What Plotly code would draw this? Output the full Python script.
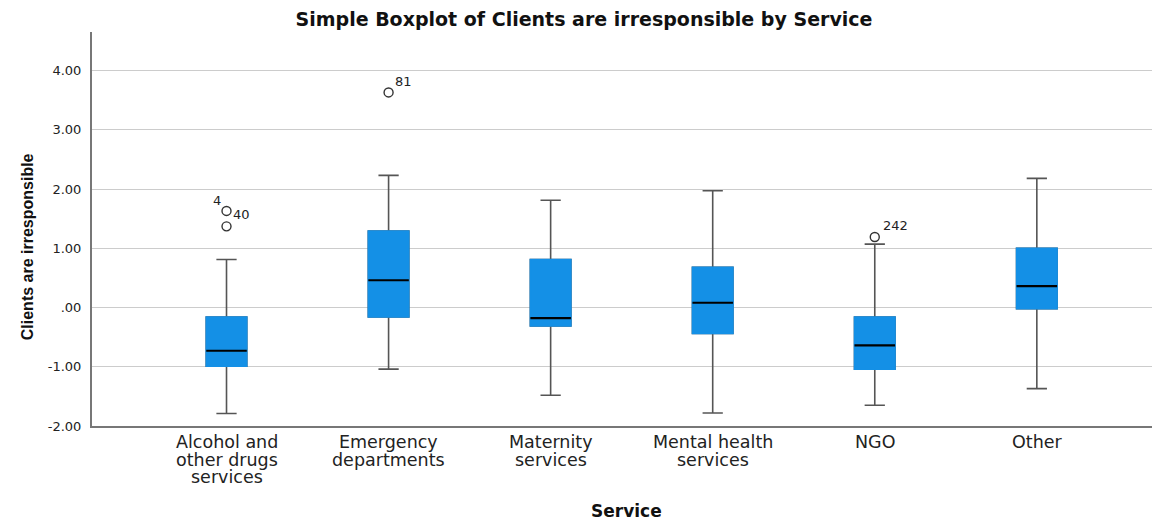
import plotly.graph_objects as go

# SPSS style boxplot
services = ['Alcohol and other drugs services', 'Emergency departments',
            'Maternity services', 'Mental health services', 'NGO', 'Other']
label_lines = [['Alcohol and', 'other drugs', 'services'], ['Emergency', 'departments'],
               ['Maternity', 'services'], ['Mental health', 'services'], ['NGO'], ['Other']]
lower = [-1.79, -1.04, -1.48, -1.78, -1.65, -1.37]
q1 = [-0.99, -0.16, -0.31, -0.44, -1.04, -0.02]
median = [-0.73, 0.46, -0.18, 0.08, -0.64, 0.36]
q3 = [-0.16, 1.29, 0.81, 0.68, -0.16, 1.00]
upper = [0.81, 2.23, 1.81, 1.97, 1.07, 2.18]

# outliers: service index, value
out_idx = [0, 0, 1, 4]
out_val = [1.63, 1.37, 3.63, 1.19]

# outlier labels: service index, value, text
lab_idx = [0, 0, 1, 4]
lab_val = [1.63, 1.63, 3.63, 1.19]
lab_text = ['4', '40', '81', '242']
lab_shift = [(-10, 10), (15, -4), (15, 11), (21, 12)]

tick_vals = [-2, -1, 0, 1, 2, 3, 4]
tick_text = ['-2.00', '-1.00', '.00', '1.00', '2.00', '3.00', '4.00']

BLUE = '#1490e6'
W = 0.25
FONT = 'DejaVu Sans, Verdana, sans-serif'

fig = go.Figure()
# whiskers + box
fig.add_trace(go.Box(
    x=services, q1=q1, median=median, q3=q3, lowerfence=lower, upperfence=upper,
    width=W, whiskerwidth=0.5, fillcolor=BLUE,
    line=dict(color='#555555', width=1.6), showlegend=False, hoverinfo='skip',
))
# cover outline with blue
fig.add_trace(go.Box(
    x=services, q1=q1, median=median, q3=q3, lowerfence=q1, upperfence=q3,
    width=W, whiskerwidth=0, fillcolor=BLUE,
    line=dict(color=BLUE, width=1.6), showlegend=False, hoverinfo='skip',
))
# black median line
fig.add_trace(go.Box(
    x=services, q1=median, median=median, q3=median, lowerfence=median, upperfence=median,
    width=W, whiskerwidth=0, fillcolor='rgba(0,0,0,0)',
    line=dict(color='black', width=2.2), showlegend=False, hoverinfo='skip',
))
# outliers
fig.add_trace(go.Scatter(
    x=[services[i] for i in out_idx], y=out_val, mode='markers',
    marker=dict(symbol='circle-open', size=9, color='#333333', line=dict(width=1.4)),
    showlegend=False, hoverinfo='skip',
))
for i, v, t, (dx, dy) in zip(lab_idx, lab_val, lab_text, lab_shift):
    fig.add_annotation(x=services[i], y=v, text=t, showarrow=False,
                       xshift=dx, yshift=dy, font=dict(size=13, color='#222222', family=FONT))

# category labels, one annotation per line for tight line spacing
for s, lines in zip(services, label_lines):
    for k, ln in enumerate(lines):
        fig.add_annotation(x=s, y=0, yref='paper', text=ln, showarrow=False,
                           yanchor='middle', yshift=-16 - 17.5 * k,
                           font=dict(size=17.5, color='#222222', family=FONT))

fig.add_annotation(x=0, xref='paper', xshift=-75, y=0.455, yref='paper',
                   text='<b>Clients are irresponsible</b>', textangle=-90, showarrow=False,
                   font=dict(size=16, color='#111111', family='Liberation Sans Narrow, Liberation Sans, Arial, sans-serif'))
fig.add_annotation(x=0.5, xref='paper', y=0, yref='paper', yshift=-85, yanchor='middle',
                   text='<b>Service</b>', showarrow=False,
                   font=dict(size=17, color='#111111', family=FONT))

# page body has an 8px margin, so the figure is sized and offset to fit the window
fig.update_layout(
    width=1152, height=514,
    plot_bgcolor='white', paper_bgcolor='white',
    margin=dict(l=84, r=0, t=24, b=96),
    font=dict(family=FONT, color='#222222'),
    title=dict(text='<b>Simple Boxplot of Clients are irresponsible by Service</b>',
               x=0.5, xanchor='center', y=0.978, yanchor='middle',
               font=dict(size=19, color='#111111')),
    boxmode='overlay',
)
fig.update_xaxes(
    type='category', range=[-0.83, 5.76], automargin=False,
    showline=True, linecolor='#777777', linewidth=2, showgrid=False,
    ticks='', showticklabels=False,
)
fig.update_yaxes(
    range=[-2, 4.65], tickvals=tick_vals, ticktext=tick_text, automargin=False,
    showline=True, linecolor='#777777', linewidth=2,
    showgrid=True, gridcolor='#cccccc', gridwidth=1.2, zeroline=False,
    ticks='', ticklabelstandoff=6, tickfont=dict(size=13, color='#222222'),
)

fig.write_html("out.html")
